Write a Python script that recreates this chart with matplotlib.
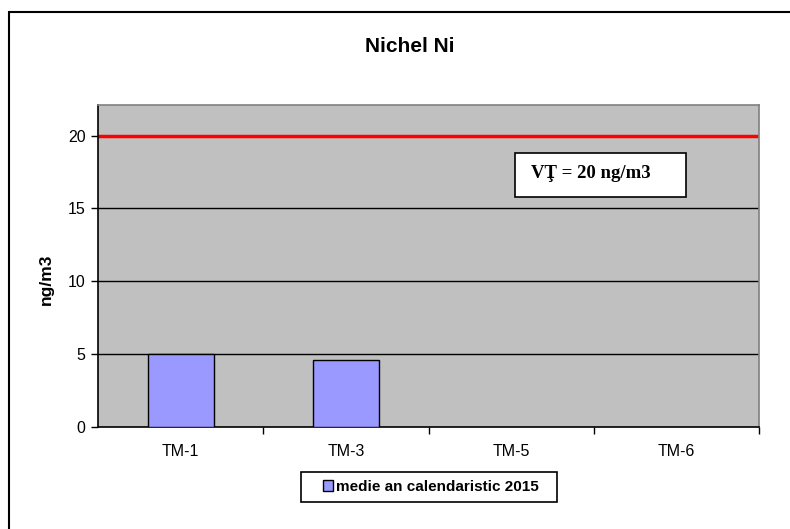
import matplotlib
matplotlib.use("Agg")
import matplotlib.pyplot as plt
from matplotlib.patches import Rectangle

categories = ["TM-1", "TM-3", "TM-5", "TM-6"]
values = [5.0, 4.6, None, None]
series_label = "medie an calendaristic 2015"
limit_value = 20
limit_text = "VŢ = 20 ng/m3"
title = "Nichel Ni"
ylabel = "ng/m3"
yticks = [0, 5, 10, 15, 20]

plt.rcParams['font.family'] = ['Liberation Sans', 'DejaVu Sans']

W, H = 790, 529
fig = plt.figure(figsize=(W/100, H/100), dpi=100)
fig.patch.set_facecolor("white")

# outer chart frame
fig.patches.append(Rectangle((9/W, -0.1), 2.0, 1 - 12/H + 0.1, transform=fig.transFigure,
                             fill=False, edgecolor="black", linewidth=1.5))

ax = fig.add_axes([98/W, 1 - 427/H, (759 - 98)/W, (427 - 105)/H])
ax.set_facecolor("#c0c0c0")

x = list(range(len(categories)))
xs = [i for i, v in zip(x, values) if v is not None]
vs = [v for v in values if v is not None]
ax.bar(xs, vs, width=0.4, color="#9999ff", edgecolor="black", linewidth=1.0, zorder=3,
       label=series_label)

ax.set_xlim(-0.5, len(categories) - 0.5)
ax.set_ylim(0, 22.1)
ax.set_yticks(yticks)
for t in yticks[1:-1]:
    ax.axhline(t, color="black", linewidth=1.0, zorder=1)
ax.axhline(limit_value, color="#ff0000", linewidth=2.5, zorder=2)

ax.set_xticks(x)
ax.set_xticklabels(categories, fontsize=11.5)
ax.set_xticks([i + 0.5 for i in x], minor=True)
ax.tick_params(axis="x", which="major", length=0, pad=12)
ax.tick_params(axis="x", which="minor", length=5, width=1, color="black", direction="out")
ax.tick_params(axis="y", length=5, width=1, labelsize=11.5, pad=4)

for s in ["left", "bottom"]:
    ax.spines[s].set_color("black")
    ax.spines[s].set_linewidth(1.2)
for s in ["top", "right"]:
    ax.spines[s].set_color("#808080")
    ax.spines[s].set_linewidth(1.2)

fig.text(410/W, 1 - 47/H, title, ha="center", va="center",
         fontsize=15, fontweight="bold", family=["Liberation Sans Narrow", "Liberation Sans"])
fig.text(46/W, 1 - 279/H, ylabel, rotation=90, ha="center", va="center",
         fontsize=12.5, fontweight="bold")

fig.patches.append(Rectangle((515/W, 1 - 197/H), (686 - 515)/W, 44/H, transform=fig.transFigure,
                             facecolor="white", edgecolor="black", linewidth=1.2, zorder=4))
fig.text(591/W, 1 - 174/H, limit_text, ha="center", va="center",
         fontsize=13.5, fontweight="bold", family=["Liberation Serif", "DejaVu Serif"], zorder=6)

# legend box
fig.patches.append(Rectangle((301/W, 1 - 502/H), (557 - 301)/W, 30/H, transform=fig.transFigure,
                             facecolor="white", edgecolor="black", linewidth=1.2, zorder=4))
leg = ax.legend(loc="center", bbox_to_anchor=(431/W, 1 - 487/H), bbox_transform=fig.transFigure,
                frameon=False,
                prop={"weight": "bold", "size": 11}, handlelength=0.7, handleheight=0.7,
                handletextpad=0.2, borderpad=0.3, borderaxespad=0)
leg.set_zorder(6)
leg.remove()
fig.legends.append(leg)
leg.set_figure(fig)

fig.savefig("out.png", dpi=100, facecolor="white")
